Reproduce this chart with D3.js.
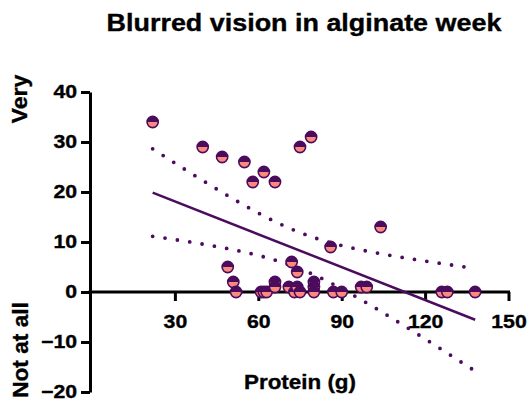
<!DOCTYPE html>
<html>
<head>
<meta charset="utf-8">
<script src="https://cdn.jsdelivr.net/npm/d3@7"></script>
<style>
  html, body { margin: 0; padding: 0; background: #fff; }
  text { font-family: "Liberation Sans", Arial, Helvetica, sans-serif; font-weight: bold; fill: #000;
         stroke: #000; stroke-width: 0.35px; }
</style>
</head>
<body>
<svg id="chart" width="529" height="405"></svg>
<script>
// Protein intake (g) and blurred-vision score for each participant
const protein = [22, 40, 47, 55, 62, 58, 66, 75, 79, 86, 104,
                 49, 51, 52, 61, 62, 63, 66, 66, 72, 74, 71, 73, 74, 75,
                 80, 80, 80, 87, 90, 97, 99, 126, 128, 138];
const score   = [34, 29, 27, 26, 24, 22, 22, 29, 31, 9, 13,
                 5, 2, 0, 0, 0, 0, 2, 1, 6, 4, 1, 0, 1, 0,
                 2, 1, 0, 0, 0, 1, 1, 0, 0, 0];

const xTicks = [30, 60, 90, 120, 150];
const yTicks = [-20, -10, 0, 10, 20, 30, 40];
const chartTitle = "Blurred vision in alginate week";
const xTitle = "Protein (g)";
const yTop = "Very";
const yBottom = "Not at all";

const dark = "#4b0c5e";
const light = "#fb8a7c";

const svg = d3.select("#chart");
const x = d3.scaleLinear().domain([0, 150]).range([91.5, 508.5]);
const y = d3.scaleLinear().domain([-20, 40]).range([392, 92]);

// Widen a text element horizontally along its reading direction
function widen(sel, factor) {
  sel.each(function () {
    const w = this.getComputedTextLength();
    d3.select(this).attr("textLength", w * factor).attr("lengthAdjust", "spacingAndGlyphs");
  });
}

// Least-squares fit with a 95% confidence band for the mean
const n = protein.length;
const mx = d3.mean(protein), my = d3.mean(score);
let sxx = 0, sxy = 0, syy = 0;
for (let i = 0; i < n; i++) {
  const dx = protein[i] - mx, dy = score[i] - my;
  sxx += dx * dx; sxy += dx * dy; syy += dy * dy;
}
const slope = sxy / sxx;
const intercept = my - slope * mx;
const s = Math.sqrt((syy - sxy * sxy / sxx) / (n - 2));
// two-sided 95% t quantile, df = n - 2 (via bisection on the t CDF)
function tCdf(t, df) {
  const xx = df / (df + t * t);
  return 1 - 0.5 * betaInc(xx, df / 2, 0.5);
}
function betaInc(xx, a, b) {
  // continued fraction for the regularized incomplete beta
  const lbeta = lgamma(a + b) - lgamma(a) - lgamma(b);
  const front = Math.exp(Math.log(xx) * a + Math.log(1 - xx) * b + lbeta) / a;
  let f = 1, c = 1, d = 0;
  for (let i = 0; i <= 200; i++) {
    const m = Math.floor(i / 2);
    let num;
    if (i === 0) num = 1;
    else if (i % 2 === 0) num = (m * (b - m) * xx) / ((a + 2 * m - 1) * (a + 2 * m));
    else num = -((a + m) * (a + b + m) * xx) / ((a + 2 * m) * (a + 2 * m + 1));
    d = 1 + num * d; if (Math.abs(d) < 1e-30) d = 1e-30; d = 1 / d;
    c = 1 + num / c; if (Math.abs(c) < 1e-30) c = 1e-30;
    const cd = c * d; f *= cd;
    if (Math.abs(1 - cd) < 1e-10) break;
  }
  return front * (f - 1);
}
function lgamma(z) {
  const g = [76.18009172947146, -86.50532032941677, 24.01409824083091,
             -1.231739572450155, 0.1208650973866179e-2, -0.5395239384953e-5];
  let xx = z, yy = z, tmp = xx + 5.5;
  tmp -= (xx + 0.5) * Math.log(tmp);
  let ser = 1.000000000190015;
  for (let j = 0; j < 6; j++) ser += g[j] / ++yy;
  return -tmp + Math.log(2.5066282746310005 * ser / xx);
}
let lo = 0, hi = 10;
for (let k = 0; k < 60; k++) {
  const mid = (lo + hi) / 2;
  if (tCdf(mid, n - 2) < 0.975) lo = mid; else hi = mid;
}
const tq = (lo + hi) / 2;

const xMin = d3.min(protein), xMax = d3.max(protein);
const grid = d3.range(0, 101).map(i => xMin + (xMax - xMin) * i / 100);
const fit = xv => intercept + slope * xv;
const half = xv => tq * s * Math.sqrt(1 / n + (xv - mx) * (xv - mx) / sxx);

// Axes
const yAxis = svg.append("g")
  .attr("transform", `translate(${x(0) - 1.5},0)`)
  .call(d3.axisLeft(y).tickValues(yTicks).tickSize(9).tickPadding(4).tickSizeOuter(0));
const xAxis = svg.append("g")
  .attr("transform", `translate(0,${y(0)})`)
  .call(d3.axisBottom(x).tickValues(xTicks).tickSize(9).tickPadding(14).tickSizeOuter(0));
[yAxis, xAxis].forEach(g => {
  g.select(".domain").attr("stroke", "#000").attr("stroke-width", 3);
  g.selectAll(".tick line").attr("stroke", "#000").attr("stroke-width", 3);
  g.selectAll(".tick text").style("font-size", "18px").attr("fill", "#000").call(widen, 1.18);
});
xAxis.select(".domain").attr("d", `M${x(0) - 3},0H${x(150) + 1.5}`);

// Confidence band (dotted) and fitted line
const lineGen = d3.line().x(d => x(d[0])).y(d => y(d[1]));
[1, -1].forEach(sign => {
  svg.append("path")
    .attr("d", lineGen(grid.map(v => [v, fit(v) + sign * half(v)])))
    .attr("fill", "none").attr("stroke", dark).attr("stroke-width", 3.8)
    .attr("stroke-linecap", "round").attr("stroke-dasharray", "0 12.5");
});
svg.append("path")
  .attr("d", lineGen([[xMin, fit(xMin)], [xMax, fit(xMax)]]))
  .attr("fill", "none").attr("stroke", dark).attr("stroke-width", 2.5);

// Two-tone circular markers
const r = 5.6;
const pts = svg.append("g").selectAll("g").data(protein.map((p, i) => [p, score[i]])).join("g")
  .attr("transform", d => `translate(${x(d[0])},${y(d[1])})`);
pts.append("circle").attr("r", r).attr("fill", dark);
pts.append("path").attr("d", `M${-r},0A${r},${r} 0 0 0 ${r},0Z`).attr("fill", light);
pts.append("circle").attr("r", r).attr("fill", "none").attr("stroke", dark).attr("stroke-width", 1.6);

// Titles
svg.append("text").attr("x", 304).attr("y", 31).attr("text-anchor", "middle")
  .style("font-size", "23px").text(chartTitle).call(widen, 1.17);
svg.append("text").attr("x", 300).attr("y", 389).attr("text-anchor", "middle")
  .style("font-size", "20px").text(xTitle).call(widen, 1.12);
svg.append("text").attr("transform", "translate(27,99) rotate(-90)").attr("text-anchor", "middle")
  .style("font-size", "22px").text(yTop).call(widen, 1.05);
svg.append("text").attr("transform", "translate(28,350) rotate(-90)").attr("text-anchor", "middle")
  .style("font-size", "22px").text(yBottom).call(widen, 1.03);
</script>
</body>
</html>
